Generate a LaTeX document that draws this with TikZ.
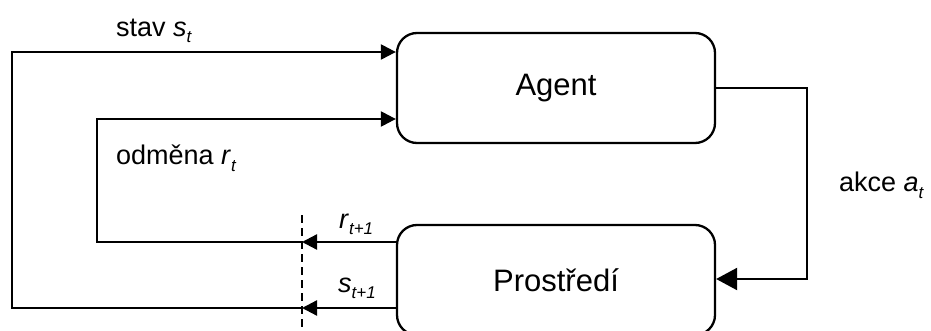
\documentclass[tikz,border=0pt]{standalone}
\usepackage{fontspec}
\setmainfont{Liberation Sans}
\usetikzlibrary{arrows.meta}
% lowered small italic index
\newcommand{\idx}[1]{\raisebox{-6pt}{\fontsize{17}{17}\selectfont\itshape #1}}
\begin{document}
\begin{tikzpicture}[x=1pt,y=-1pt,
  line width=2.3pt,
  block/.style={draw, rounded corners=20pt, minimum width=318pt, font=\fontsize{31}{36}\selectfont},
  lbl/.style={font=\fontsize{27}{32}\selectfont, inner sep=0pt},
  small/.style={-{Triangle[length=15pt,width=15pt]}},
  big/.style={-{Triangle[length=21pt,width=22pt]}}]
\useasboundingbox (0,0) rectangle (931,331);
% the two blocks
\node[block, minimum height=110pt] (agent) at (556,88) {Agent};
\node[block, minimum height=110pt] (env) at (556,280) {Prostředí};
% observation cut line
\coordinate (cutT) at (302,215);
\coordinate (cutB) at (302,331);
\draw[line width=2.8pt, dash pattern=on 8pt off 5pt] (cutT) -- (cutB);
% outputs of the environment
\coordinate (rcut) at (302,242);
\coordinate (scut) at (302,308);
\draw[small] (env.west |- rcut) -- (rcut);
\draw[small] (env.west |- scut) -- (scut);
% feedback loops to the agent
\coordinate (rin) at (agent.west |- 0,119);
\coordinate (sin) at (agent.west |- 0,52);
\draw[small] (rcut) -- (97,242) -- (97,119) -- (rin);
\draw[small] (scut) -- (12,308) -- (12,52) -- (sin);
% action
\draw[big] (agent.east) -- (807,88) -- (807,279) -- (env.east |- 0,279);
% labels
\node[lbl, anchor=base west] (ls) at (115,37) {stav \textit{s}\idx{t}};
\node[lbl, anchor=base west] (lr) at (115,165) {odměna \textit{r}\idx{t}};
\node[lbl, anchor=base west] (la) at (838,192) {akce \textit{a}\idx{t}};
\node[lbl, anchor=base west] (lr1) at (338,228) {\textit{r}\idx{t+1}};
\node[lbl, anchor=base west] (ls1) at (337,292) {\textit{s}\idx{t+1}};
\end{tikzpicture}
\end{document}
